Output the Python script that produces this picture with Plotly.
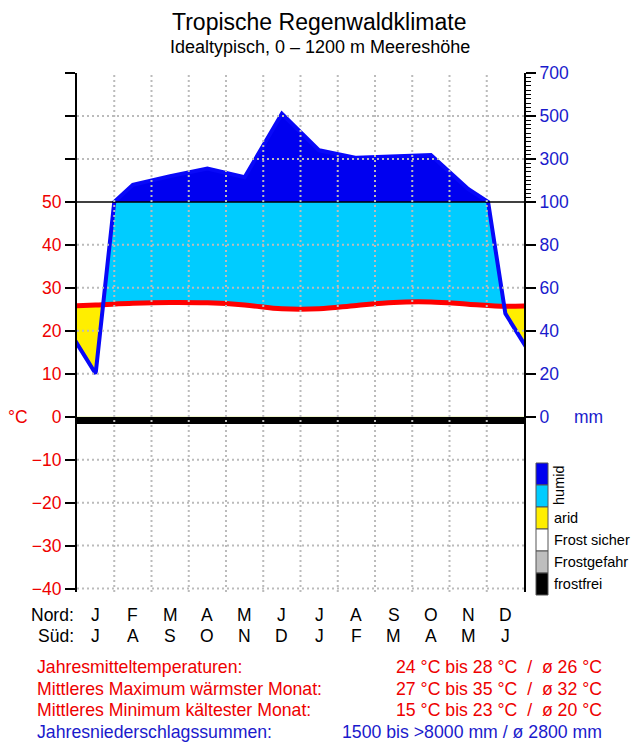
import numpy as np
import plotly.graph_objects as go

# ---------------- data ----------------
title_text = "Tropische Regenwaldklimate"
subtitle_text = "Idealtypisch, 0 – 1200 m Meereshöhe"
months_nord = ["J", "F", "M", "A", "M", "J", "J", "A", "S", "O", "N", "D"]
months_sued = ["J", "A", "S", "O", "N", "D", "J", "F", "M", "A", "M", "J"]
temp_c = [26.0, 26.4, 26.6, 26.5, 26.0, 25.1, 25.1, 25.9, 26.6, 26.7, 26.2, 25.7]
precip_mm = [20, 180, 220, 255, 215, 510, 340, 305, 312, 318, 160, 48]
frost_status = ["frostfrei"] * 12
temp_ticks = [-40, -30, -20, -10, 0, 10, 20, 30, 40, 50]
temp_extra_ticks = [60, 70, 80]
precip_ticks_mm = [0, 20, 40, 60, 80, 100, 300, 500, 700]
legend_labels = ["humid", "arid", "Frost sicher", "Frostgefahr", "frostfrei"]
summary_labels = ["Jahresmitteltemperaturen:", "Mittleres Maximum wärmster Monat:",
                  "Mittleres Minimum kältester Monat:", "Jahresniederschlagssummen:"]
summary_values = ["24 °C bis 28 °C  /  ø 26 °C", "27 °C bis 35 °C  /  ø 32 °C",
                  "15 °C bis 23 °C  /  ø 20 °C", "1500 bis >8000 mm / ø 2800 mm"]

# ---------------- style ----------------
FONT = "Liberation Sans, Arial, Helvetica, sans-serif"
RED = "#EE0000"
BLUE_TXT = "#1A1ACC"
DARK_BLUE = "#0000F0"
CYAN = "#00CCFF"
YELLOW = "#FFEE00"
GRID = "#BBBBBB"
OFF = 8  # page body margin of the browser
W, H = 640 - OFF, 753 - OFF
PLOT_L, PLOT_R, PLOT_T, PLOT_B = 77, 524, 73, 592   # in window pixels
L, T = PLOT_L - OFF, PLOT_T - OFF
R = W - (PLOT_R - OFF)
B = H - (PLOT_B - OFF)
PW, PH = W - L - R, H - T - B
YMIN, YMAX = -40.8, 80


def px(xp):
    return (xp - PLOT_L) / PW


def py(yp):
    return (PLOT_B - yp) / PH


def mm_to_unit(p):
    return p / 2.0 if p <= 100 else 50 + (p - 100) / 20.0


# wrap months (Dec before Jan, Jan after Dec)
xs = list(range(0, 14))
P_ext = [precip_mm[-1]] + precip_mm + [precip_mm[0]]
T_ext = [temp_c[-1]] + temp_c + [temp_c[0]]

# precipitation polyline with kink at 100 mm
gx, gp = [], []
for i in range(13):
    x0, x1, p0, p1 = xs[i], xs[i + 1], P_ext[i], P_ext[i + 1]
    gx.append(x0); gp.append(p0)
    if (p0 - 100) * (p1 - 100) < 0:
        gx.append(x0 + (100 - p0) / (p1 - p0) * (x1 - x0)); gp.append(100.0)
gx.append(xs[-1]); gp.append(P_ext[-1])
gu = [mm_to_unit(p) for p in gp]
gt = list(np.interp(gx, xs, T_ext))

# insert crossings of precipitation and temperature
cx, cu, ct = [], [], []
for i in range(len(gx) - 1):
    cx.append(gx[i]); cu.append(gu[i]); ct.append(gt[i])
    d0, d1 = gu[i] - gt[i], gu[i + 1] - gt[i + 1]
    if d0 * d1 < 0:
        f = d0 / (d0 - d1)
        xc = gx[i] + f * (gx[i + 1] - gx[i])
        uc = gu[i] + f * (gu[i + 1] - gu[i])
        cx.append(xc); cu.append(uc); ct.append(uc)
cx.append(gx[-1]); cu.append(gu[-1]); ct.append(gt[-1])
cu = np.array(cu); ct = np.array(ct)
u50 = np.minimum(cu, 50)
lo = np.minimum(cu, ct)

fig = go.Figure()
nofx = dict(mode="lines", hoverinfo="skip", showlegend=False)
fig.add_trace(go.Scatter(x=cx, y=cu, fill="tozeroy", fillcolor=DARK_BLUE, line=dict(width=0), **nofx))
fig.add_trace(go.Scatter(x=cx, y=u50, fill="tozeroy", fillcolor=CYAN, line=dict(width=0), **nofx))
fig.add_trace(go.Scatter(x=cx, y=ct, fill="tozeroy", fillcolor=YELLOW, line=dict(width=0), **nofx))
fig.add_trace(go.Scatter(x=cx, y=lo, fill="tozeroy", fillcolor="white", line=dict(width=0), **nofx))
# temperature curve
fig.add_trace(go.Scatter(x=xs, y=T_ext, line=dict(color="#FF0000", width=5, shape="spline"), **nofx))
# precipitation curve
fig.add_trace(go.Scatter(x=cx, y=cu, line=dict(color="#0808F8", width=4), **nofx))
# frost bar
frost_colors = {"frostfrei": "black", "Frostgefahr": "#BEBEBE", "Frost sicher": "white"}
fig.add_trace(go.Bar(x=list(range(1, 13)), y=[-1.75] * 12, width=1,
                     marker=dict(color=[frost_colors[s] for s in frost_status], line=dict(width=0)),
                     hoverinfo="skip", showlegend=False))
# dummy trace for right axis
fig.add_trace(go.Scatter(x=[1], y=[0], yaxis="y2", mode="markers", marker=dict(opacity=0),
                         hoverinfo="skip", showlegend=False))

shapes = []
# black line at 100 mm
shapes.append(dict(type="line", xref="x", yref="y", x0=0.5, x1=12.5, y0=50, y1=50,
                   line=dict(color="black", width=1.5), layer="above"))
# grid
for v in [t for t in temp_ticks + temp_extra_ticks if t not in (0, 50, 80)]:
    shapes.append(dict(type="line", xref="x", yref="y", x0=0.5, x1=12.5, y0=v, y1=v,
                       line=dict(color=GRID, width=2, dash="2px,3px"), layer="above"))
for k in range(1, 12):
    shapes.append(dict(type="line", xref="x", yref="y", x0=k + 0.5, x1=k + 0.5, y0=YMIN, y1=YMAX,
                       line=dict(color=GRID, width=2, dash="2px,3px"), layer="above"))
# legend boxes
box_colors = [DARK_BLUE, CYAN, YELLOW, "white", "#BEBEBE", "black"]
box_top = 463
box_h = 22
for i, c in enumerate(box_colors):
    shapes.append(dict(type="rect", xref="paper", yref="paper", x0=px(536), x1=px(548),
                       y0=py(box_top + i * box_h), y1=py(box_top + (i + 1) * box_h),
                       fillcolor=c, line=dict(color="#555555", width=1), layer="above"))

ann = []
ann.append(dict(text=title_text, x=px(319), y=py(21.5), xref="paper", yref="paper", showarrow=False,
                font=dict(size=23, color="black", family=FONT), xanchor="center", yanchor="middle",
                borderpad=0))
ann.append(dict(text=subtitle_text, x=px(320), y=py(47), xref="paper", yref="paper", showarrow=False,
                font=dict(size=18, color="black", family=FONT), xanchor="center", yanchor="middle"))
ann.append(dict(text="°C", x=px(18), y=0, xref="paper", yref="y", showarrow=False,
                font=dict(size=17.5, color=RED, family=FONT), xanchor="center", yanchor="middle"))
ann.append(dict(text="mm", x=px(588), y=0, xref="paper", yref="y", showarrow=False,
                font=dict(size=17.5, color=BLUE_TXT, family=FONT), xanchor="center", yanchor="middle"))
# month rows
ann.append(dict(text="Nord:", x=px(76), y=py(615), xref="paper", yref="paper", showarrow=False,
                font=dict(size=17.5, color="black", family=FONT), xanchor="right", yanchor="middle"))
ann.append(dict(text="Süd:", x=px(76), y=py(636), xref="paper", yref="paper", showarrow=False,
                font=dict(size=17.5, color="black", family=FONT), xanchor="right", yanchor="middle"))
for i in range(12):
    ann.append(dict(text=months_nord[i], x=i + 1, y=py(615), xref="x", yref="paper", showarrow=False,
                    font=dict(size=17.5, color="black", family=FONT), xanchor="center", yanchor="middle"))
    ann.append(dict(text=months_sued[i], x=i + 1, y=py(636), xref="x", yref="paper", showarrow=False,
                    font=dict(size=17.5, color="black", family=FONT), xanchor="center", yanchor="middle"))
# legend labels
ann.append(dict(text=legend_labels[0], x=px(559), y=py(box_top + box_h), xref="paper", yref="paper",
                showarrow=False, textangle=-90, font=dict(size=14.5, color="black", family=FONT),
                xanchor="center", yanchor="middle"))
for i, lab in enumerate(legend_labels[1:]):
    ann.append(dict(text=lab, x=px(552), y=py(box_top + (i + 2.5) * box_h), xref="paper", yref="paper",
                    showarrow=False, font=dict(size=14.5, color="black", family=FONT),
                    xanchor="left", yanchor="middle"))
# summary
rows_y = [667, 689, 710, 732]
for i in range(4):
    col = BLUE_TXT if i == 3 else RED
    ann.append(dict(text=summary_labels[i], x=px(35), y=py(rows_y[i]), xref="paper", yref="paper",
                    showarrow=False, font=dict(size=17.7, color=col, family=FONT),
                    xanchor="left", yanchor="middle"))
    ann.append(dict(text=summary_values[i].replace("  ", "\u00a0\u00a0"), x=px(604), y=py(rows_y[i]),
                    xref="paper", yref="paper", showarrow=False,
                    font=dict(size=17.7, color=col, family=FONT), xanchor="right", yanchor="middle"))

left_vals = temp_ticks + temp_extra_ticks
left_text = [("\u2212" + str(-v)) if v < 0 else str(v) for v in temp_ticks] + [""] * len(temp_extra_ticks)
right_vals = [mm_to_unit(p) for p in precip_ticks_mm]
right_text = [str(p) for p in precip_ticks_mm]
minor_vals = [v for v in range(51, 80) if v not in (60, 70)]

fig.update_layout(
    width=W, height=H, margin=dict(l=L, r=R, t=T, b=B, pad=0, autoexpand=False),
    paper_bgcolor="white", plot_bgcolor="white", bargap=0,
    font=dict(family=FONT),
    xaxis=dict(range=[0.5, 12.5], showgrid=False, zeroline=False, showticklabels=False,
               ticks="", showline=False, fixedrange=True, automargin=False),
    yaxis=dict(range=[YMIN, YMAX], showgrid=False, zeroline=False, showline=True, automargin=False,
               linecolor="black", linewidth=2, tickmode="array", tickvals=left_vals,
               ticktext=left_text, ticks="outside", ticklen=10, tickwidth=2, tickcolor="black",
               tickfont=dict(size=17.5, color=RED, family=FONT)),
    yaxis2=dict(range=[YMIN, YMAX], overlaying="y", side="right", showgrid=False, zeroline=False,
                showline=True, linecolor="black", linewidth=2, tickmode="array", automargin=False,
                tickvals=right_vals, ticktext=right_text, ticks="outside", ticklen=10,
                tickwidth=2, tickcolor="black",
                tickfont=dict(size=17.5, color=BLUE_TXT, family=FONT),
                minor=dict(tickmode="array", tickvals=minor_vals, ticks="outside", ticklen=5,
                           tickwidth=1, tickcolor="black", showgrid=False)),
    shapes=shapes, annotations=ann, showlegend=False,
)

fig.write_html("out.html")
